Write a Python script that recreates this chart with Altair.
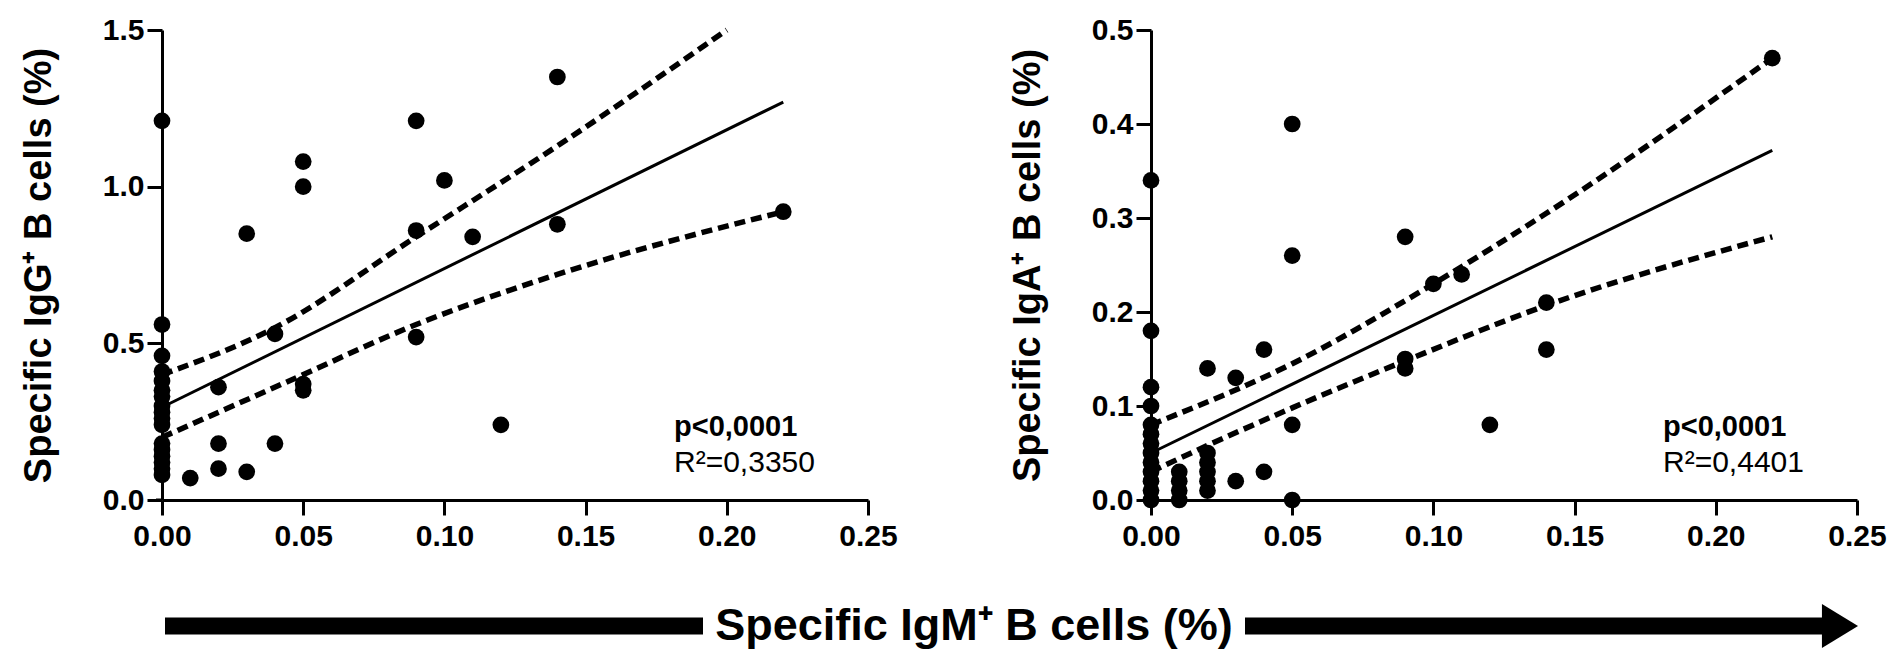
import altair as alt
import pandas as pd

FONT = "Liberation Sans"

# ---------------- Left panel: IgG+ vs IgM+ ----------------
igm_left = [0.00, 0.00, 0.00, 0.00, 0.00, 0.00, 0.00, 0.00, 0.00, 0.00, 0.00, 0.00, 0.00, 0.00, 0.00, 0.00, 0.00,
            0.01, 0.02, 0.02, 0.02, 0.03, 0.03, 0.04, 0.04, 0.05, 0.05, 0.05, 0.05,
            0.09, 0.09, 0.09, 0.10, 0.11, 0.12, 0.14, 0.14, 0.22]
igg = [1.21, 0.56, 0.46, 0.41, 0.38, 0.35, 0.33, 0.30, 0.28, 0.26, 0.24, 0.18, 0.16, 0.14, 0.12, 0.10, 0.08,
       0.07, 0.36, 0.18, 0.10, 0.85, 0.09, 0.53, 0.18, 1.08, 1.00, 0.37, 0.35,
       1.21, 0.86, 0.52, 1.02, 0.84, 0.24, 1.35, 0.88, 0.92]
left_fit_x = [0.00, 0.22]
left_fit_y = [0.296, 1.27]
left_up_x = [0.00, 0.04, 0.09, 0.14, 0.20]
left_up_y = [0.40, 0.55, 0.84, 1.13, 1.50]
left_lo_x = [0.00, 0.045, 0.09, 0.14, 0.22]
left_lo_y = [0.20, 0.38, 0.56, 0.72, 0.92]
left_p = "p<0,0001"
left_r2 = "R²=0,3350"

# ---------------- Right panel: IgA+ vs IgM+ ----------------
igm_right = [0.00, 0.00, 0.00, 0.00, 0.00, 0.00, 0.00, 0.00, 0.00, 0.00, 0.00, 0.00, 0.00,
             0.01, 0.01, 0.01, 0.01, 0.02, 0.02, 0.02, 0.02, 0.02, 0.02,
             0.03, 0.03, 0.04, 0.04, 0.05, 0.05, 0.05, 0.05,
             0.09, 0.09, 0.09, 0.10, 0.11, 0.12, 0.14, 0.14, 0.22]
iga = [0.34, 0.18, 0.12, 0.10, 0.08, 0.07, 0.06, 0.05, 0.04, 0.03, 0.02, 0.01, 0.00,
       0.03, 0.02, 0.01, 0.00, 0.14, 0.05, 0.04, 0.03, 0.02, 0.01,
       0.13, 0.02, 0.16, 0.03, 0.40, 0.26, 0.08, 0.00,
       0.28, 0.15, 0.14, 0.23, 0.24, 0.08, 0.21, 0.16, 0.47]
right_fit_x = [0.00, 0.22]
right_fit_y = [0.05, 0.372]
right_up_x = [0.00, 0.05, 0.10, 0.14, 0.22]
right_up_y = [0.08, 0.145, 0.23, 0.305, 0.47]
right_lo_x = [0.00, 0.02, 0.05, 0.09, 0.14, 0.22]
right_lo_y = [0.03, 0.058, 0.098, 0.148, 0.207, 0.28]
right_p = "p<0,0001"
right_r2 = "R²=0,4401"

x_ticks = [0.00, 0.05, 0.10, 0.15, 0.20, 0.25]
left_y_ticks = [0.0, 0.5, 1.0, 1.5]
right_y_ticks = [0.0, 0.1, 0.2, 0.3, 0.4, 0.5]
bottom_title = "Specific IgM⁺ B cells (%)"

W, H = 706, 470
GAP = 283


def panel(xs, ys, fx, fy, ux, uy, lx, ly, ydom, yticks, ytitle, ptxt, rtxt, extra=None):
    xsc = alt.Scale(domain=[0, 0.25], nice=False, zero=False)
    ysc = alt.Scale(domain=ydom, nice=False)
    xax = alt.Axis(values=x_ticks, format=".2f", title=None, tickSize=15, labelPadding=6,
                   grid=False, labelFlush=False)
    yax = alt.Axis(values=yticks, format=".1f", title=ytitle, tickSize=15, labelPadding=3,
                   grid=False, titlePadding=44, labelFlush=False)
    pts = alt.Chart(pd.DataFrame({"x": xs, "y": ys})).mark_circle(
        size=280, color="black", opacity=1, clip=False
    ).encode(x=alt.X("x:Q", scale=xsc, axis=xax), y=alt.Y("y:Q", scale=ysc, axis=yax))
    fit = alt.Chart(pd.DataFrame({"x": fx, "y": fy})).mark_line(
        color="black", strokeWidth=3
    ).encode(x="x:Q", y="y:Q")
    up = alt.Chart(pd.DataFrame({"x": ux, "y": uy})).mark_line(
        color="black", strokeWidth=5.5, strokeDash=[11, 6], interpolate="monotone"
    ).encode(x="x:Q", y="y:Q")
    lo = alt.Chart(pd.DataFrame({"x": lx, "y": ly})).mark_line(
        color="black", strokeWidth=5.5, strokeDash=[11, 6], interpolate="monotone"
    ).encode(x="x:Q", y="y:Q")
    one = pd.DataFrame({"a": [0]})
    # small extension of the x axis line to the left of the y axis
    ext = alt.Chart(one).mark_rule(color="black", strokeWidth=3, strokeCap="butt").encode(
        x=alt.value(-6), x2=alt.value(0), y=alt.value(H))
    t1 = alt.Chart(one).mark_text(
        text=ptxt, font=FONT, fontSize=29, fontWeight="bold", align="left", baseline="alphabetic",
        color="black"
    ).encode(x=alt.value(512), y=alt.value(406))
    t2 = alt.Chart(one).mark_text(
        text=rtxt, font=FONT, fontSize=30, align="left", baseline="alphabetic", color="black"
    ).encode(x=alt.value(512), y=alt.value(442))
    layers = [ext, fit, up, lo, pts, t1, t2] + (extra or [])
    return alt.layer(*layers).properties(width=W, height=H)


# shared x title with arrow, drawn below both panels (anchored to the left panel)
one = pd.DataFrame({"a": [0]})
AY = 596
bar1 = alt.Chart(one).mark_rule(color="black", strokeWidth=17, strokeCap="butt").encode(
    x=alt.value(3), x2=alt.value(541), y=alt.value(AY))
bar2 = alt.Chart(one).mark_rule(color="black", strokeWidth=17, strokeCap="butt").encode(
    x=alt.value(1083), x2=alt.value(1662), y=alt.value(AY))
head = alt.Chart(one).mark_point(
    shape="M-0.82,-1L0.82,0L-0.82,1Z", filled=True, color="black", opacity=1, size=1936
).encode(x=alt.value(1678), y=alt.value(AY))
btxt = alt.Chart(one).mark_text(
    text=bottom_title, font=FONT, fontSize=45, fontWeight="bold", align="center",
    baseline="middle", color="black"
).encode(x=alt.value(812), y=alt.value(AY))

left = panel(igm_left, igg, left_fit_x, left_fit_y, left_up_x, left_up_y, left_lo_x, left_lo_y,
             [0, 1.5], left_y_ticks, "Specific IgG⁺ B cells (%)", left_p, left_r2,
             extra=[bar1, bar2, head, btxt])
right = panel(igm_right, iga, right_fit_x, right_fit_y, right_up_x, right_up_y, right_lo_x, right_lo_y,
              [0, 0.5], right_y_ticks, "Specific IgA⁺ B cells (%)", right_p, right_r2)

chart = alt.hconcat(left, right, spacing=GAP, bounds="flush").properties(
    background="white",
    padding={"left": 12, "top": 7, "right": 5, "bottom": 5},
).configure_view(
    stroke=None
).configure_axis(
    domainColor="black", domainWidth=3, tickColor="black", tickWidth=3,
    labelFont=FONT, labelFontSize=30, labelFontWeight="bold", labelColor="black",
    titleFont=FONT, titleFontSize=38, titleFontWeight="bold", titleColor="black"
)

chart.save("out.html", embed_options={"renderer": "svg", "actions": False})
